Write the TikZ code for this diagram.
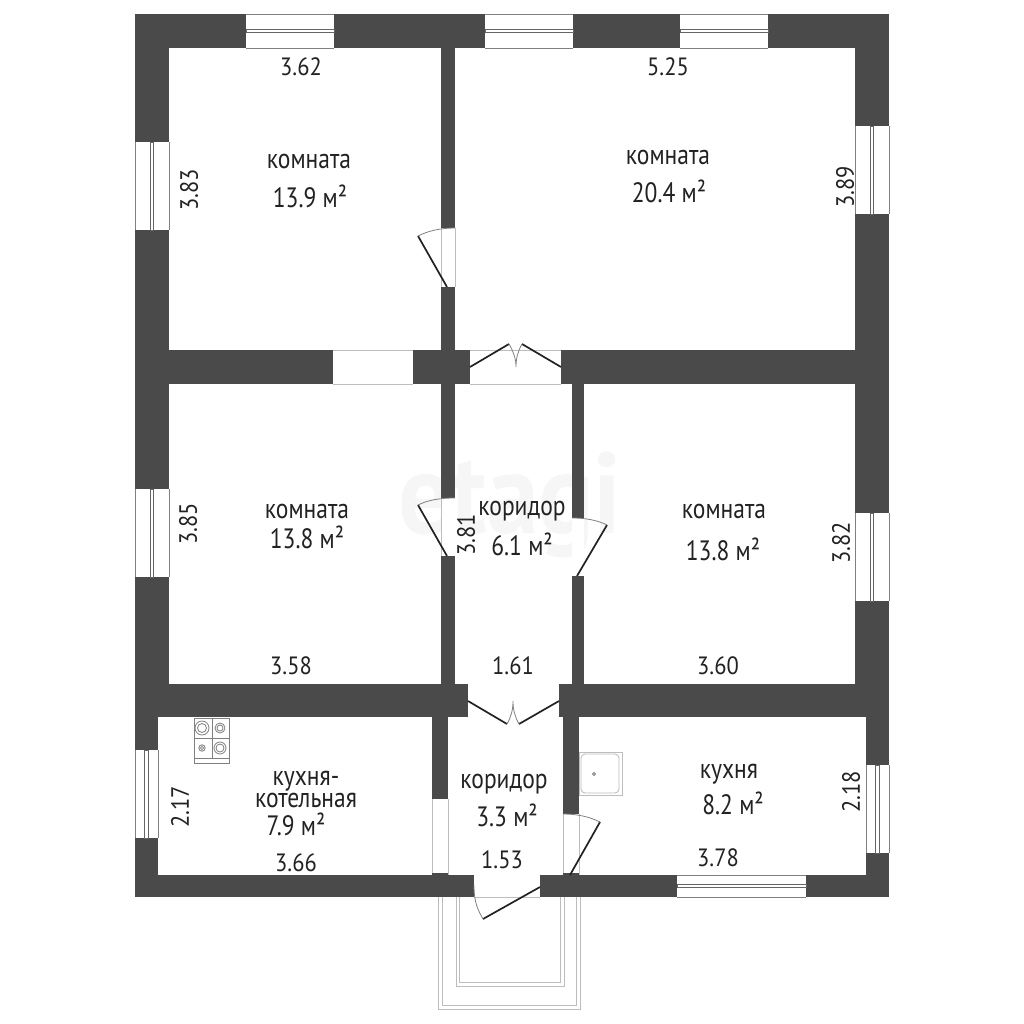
\documentclass[tikz,border=0pt]{standalone}
\usepackage{fontspec}
\setmainfont[FakeStretch=0.84]{PT Sans}
\newfontfamily\dimfont[FakeStretch=0.9]{PT Sans}
\definecolor{wallc}{HTML}{4A4A4A}
\definecolor{edgec}{HTML}{BDBDBD}
\definecolor{textc}{HTML}{222222}
\newcommand{\hwin}[4]{%
  \fill[white] (#1,#3) rectangle (#2,#4);
  \draw[winedge] (#1,#3) -- (#2,#3) (#1,#4) -- (#2,#4);
  \draw[winsash,fill=white] (#1,{(#3+#4)/2-1.8}) rectangle (#2,{(#3+#4)/2+1.8});
}
\newcommand{\vwin}[4]{%
  \fill[white] (#1,#3) rectangle (#2,#4);
  \draw[winedge] (#1,#3) -- (#1,#4) (#2,#3) -- (#2,#4);
  \draw[winsash,fill=white] ({(#1+#2)/2-1.8},#3) rectangle ({(#1+#2)/2+1.8},#4);
}
\tikzset{
  wall/.style={fill=wallc,draw=none},
  winedge/.style={draw=wallc!70,line width=0.7pt},
  winsash/.style={draw=wallc!85,line width=0.7pt},
  leaf/.style={draw=textc,line width=1.7pt},
  swing/.style={draw=gray,line width=0.8pt},
  jamb/.style={draw=edgec,line width=0.8pt},
  porch/.style={draw=edgec,line width=1pt},
  fixt/.style={draw=gray,line width=0.8pt},
  lab/.style={text=textc,font=\fontsize{28}{28}\selectfont,inner sep=0pt},
  dim/.style={text=textc,font=\dimfont\fontsize{25}{25}\selectfont,inner sep=0pt},
}
\begin{document}
\begin{tikzpicture}[x=1pt,y=-1pt]
\useasboundingbox (0,0) rectangle (1024,1024);
\fill[white] (0,0) rectangle (1024,1024);
% watermark
\node[text=black!3.5,font=\dimfont\fontsize{115}{115}\selectfont\bfseries,inner sep=0pt] (wm) at (510,505) {etagi};
% walls
\fill[wall] (135,14) rectangle (889,48);
\fill[wall] (135,14) rectangle (169,717);
\fill[wall] (855,14) rectangle (889,717);
\fill[wall] (441,48) rectangle (455,350);
\fill[wall] (169,350) rectangle (470,384);
\fill[wall] (561,350) rectangle (855,384);
\fill[wall] (441,384) rectangle (455,684);
\fill[wall] (572,384) rectangle (584,684);
\fill[wall] (135,684) rectangle (468,717);
\fill[wall] (559,684) rectangle (889,717);
\fill[wall] (135,717) rectangle (158,897);
\fill[wall] (866,717) rectangle (889,897);
\fill[wall] (432,717) rectangle (448,799);
\fill[wall] (563,717) rectangle (579,814);
\fill[wall] (135,875) rectangle (474,897);
\fill[wall] (540,875) rectangle (889,897);
% openings
\fill[white] (333,350) rectangle (413,384);
\draw[jamb] (333,350) -- (413,350) (333,384) -- (413,384);
\fill[white] (441,228) rectangle (455,287);
\draw[jamb] (441,228) -- (441,287) (455,228) -- (455,287);
\fill[white] (441,498) rectangle (455,556);
\draw[jamb] (441,498) -- (441,556);
\fill[white] (572,518) rectangle (584,576);
\fill[white] (432,799) rectangle (448,875);
\draw[jamb] (432,799) -- (432,875) (448,799) -- (448,875);
\fill[white] (563,814) rectangle (579,875);
\draw[jamb] (563,814) -- (563,875) (579,814) -- (579,875);
\fill[wall] (432,873) rectangle (448,875);
\fill[wall] (563,873) rectangle (579,875);
\draw[jamb] (470,350) -- (561,350) (470,384) -- (561,384);
\draw[jamb] (474,897) -- (540,897);
% windows
\hwin{246}{334}{14}{48}
\hwin{485}{573}{14}{48}
\hwin{680}{768}{14}{48}
\hwin{677}{806}{875}{897}
\vwin{135}{169}{142}{230}
\vwin{135}{169}{489}{577}
\vwin{855}{889}{126}{214}
\vwin{855}{889}{513}{601}
\vwin{135}{158}{750}{838}
\vwin{866}{889}{765}{853}
% doors
\draw[leaf] (447,287) -- (418,236);
\draw[swing] (418,236) .. controls (428,231) and (440,228) .. (455,228);
\draw[leaf] (447,556) -- (418,505);
\draw[swing] (418,505) .. controls (428,500) and (440,498) .. (455,498);
\draw[leaf] (577,576) -- (607,525);
\draw[swing] (607,525) .. controls (597,520) and (585,518) .. (572,518);
\draw[leaf] (570,875) -- (600,822);
\draw[swing] (600,822) .. controls (590,817) and (578,814) .. (563,814);
\draw[leaf] (540,887) -- (483,919);
\draw[swing] (483,919) .. controls (478,910) and (474,903) .. (474,885);
\draw[leaf] (470,367) -- (509,344);
\draw[leaf] (561,367) -- (522,344);
\draw[swing] (509,344) .. controls (513,351) and (516,358) .. (516,367) .. controls (516,358) and (518,351) .. (522,344);
\draw[leaf] (468,701) -- (507,724);
\draw[leaf] (559,701) -- (519,724);
\draw[swing] (507,724) .. controls (511,717) and (513,710) .. (513,701) .. controls (513,710) and (515,717) .. (519,724);
% porch
\draw[porch] (438,897) -- (438,1009) -- (580,1009) -- (580,897);
\draw[porch] (442,897) -- (442,1005) -- (576,1005) -- (576,897);
\draw[porch] (456,897) -- (456,986) -- (564,986) -- (564,897);
\draw[porch] (459,897) -- (459,982) -- (560,982) -- (560,897);
% stove
\draw[fixt] (194,718) rectangle (229,763);
\draw[fixt] (194,758) -- (229,758) (194,738) -- (229,738) (212,718) -- (212,758);
\draw[fixt] (202,728) circle (7) (202,728) circle (4.5);
\draw[fixt] (220,728) circle (5) (220,728) circle (3);
\draw[fixt] (202,748) circle (3.2) (202,748) circle (1.6);
\draw[fixt] (220,748) circle (6) (220,748) circle (4);
% sink
\draw[edgec,line width=0.9pt] (579,752) rectangle (622,795);
\draw[edgec,line width=0.9pt,rounded corners=4pt] (581,754) rectangle (619,793);
\draw[fixt] (594,774) circle (1.5);
% labels
\node[dim] (d1) at (301,67) {3.62};
\node[dim] (d2) at (668,67) {5.25};
\node[lab] (r1) at (309,162) {комната};
\node[lab] (a1) at (310,196) {13.9 м²};
\node[lab] (r2) at (668,158) {комната};
\node[lab] (a2) at (669,191) {20.4 м²};
\node[dim,rotate=90] (d3) at (189,190) {3.83};
\node[dim,rotate=90] (d4) at (845,187) {3.89};
\node[lab] (r3) at (307,511) {комната};
\node[lab] (a3) at (307,537) {13.8 м²};
\node[dim,rotate=90] (d5) at (188,524) {3.85};
\node[dim,rotate=90] (d6) at (466,535) {3.81};
\node[lab] (r4) at (522,511) {коридор};
\node[lab] (a4) at (522,544) {6.1 м²};
\node[lab] (r5) at (724,511) {комната};
\node[lab] (a5) at (723,549) {13.8 м²};
\node[dim,rotate=90] (d7) at (841,543) {3.82};
\node[dim] (d8) at (291,666) {3.58};
\node[dim] (d9) at (513,666) {1.61};
\node[dim] (d10) at (718,666) {3.60};
\node[lab] (r6) at (306,781) {кухня-};
\node[lab] (r7) at (306,800) {котельная};
\node[lab] (a6) at (296,824) {7.9 м²};
\node[dim,rotate=90] (d11) at (180,807) {2.17};
\node[dim] (d12) at (296,863) {3.66};
\node[lab] (r8) at (504,784) {коридор};
\node[lab] (a7) at (507,815) {3.3 м²};
\node[dim] (d13) at (502,860) {1.53};
\node[lab] (r9) at (729,774) {кухня};
\node[lab] (a8) at (733,803) {8.2 м²};
\node[dim,rotate=90] (d14) at (851,792) {2.18};
\node[dim] (d15) at (718,858) {3.78};
\end{tikzpicture}
\end{document}
